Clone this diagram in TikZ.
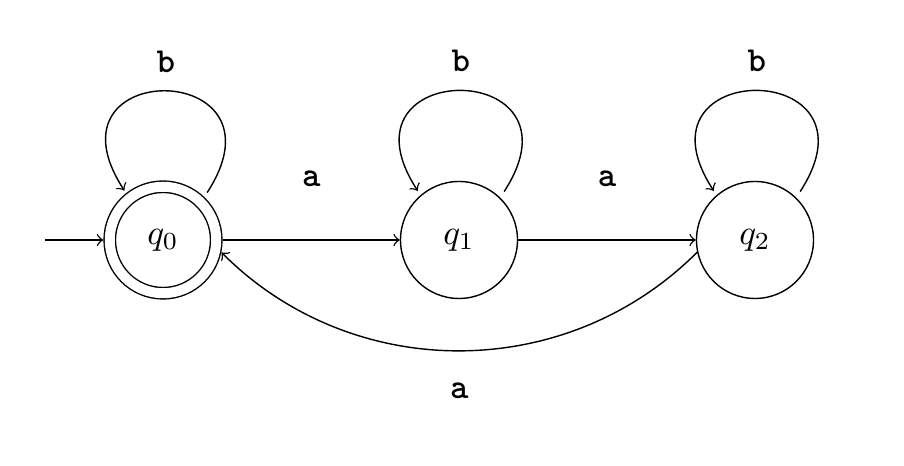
\documentclass[tikz,border=0pt]{standalone}
\usepackage{amsmath}
\usepackage{tikz}
\usetikzlibrary{arrows}
\newcommand{\sym}[1]{\texttt{\textbf{#1}}}

\begin{document}
\begin{tikzpicture}
\tikzstyle{state}=[circle, draw, minimum size=1.17cm, inner sep=0pt]
\tikzstyle{accept}=[circle, draw, double, double distance=0.1cm, minimum size=1.065cm, inner sep=0pt, outer sep=0.065cm]
\tikzstyle{selfloop}=[out=57, in=123, distance=1.6cm]

\useasboundingbox (-1.63,2.40) rectangle (7.41,-2.26);

\node[accept] (q0) at (0,0) {$q_0$};
\node[state] (q1) at (2.96,0) {$q_1$};
\node[state] (q2) at (5.92,0) {$q_2$};
\coordinate (start) at (-1.18,0);

\path[->]
(start) edge (q0)
(q0) edge node[above=0.41cm] {\sym{a}} (q1)
(q1) edge node[above=0.41cm] {\sym{a}} (q2)
(q2.192) edge[out=225, in=-45] node[below=0.2cm] {\sym{a}} (q0.-12);

% loops
\path[->]
([shift={(47:0.05)}]q0.47) edge[selfloop] node[above=0.06cm] {\sym{b}} ([shift={(128:0.03)}]q0.128)
([shift={(47:0.07)}]q1.47) edge[selfloop] node[above=0.06cm] {\sym{b}} ([shift={(130:0.05)}]q1.130)
([shift={(47:0.07)}]q2.47) edge[selfloop] node[above=0.06cm] {\sym{b}} ([shift={(130:0.05)}]q2.130);

\end{tikzpicture}
\end{document}
